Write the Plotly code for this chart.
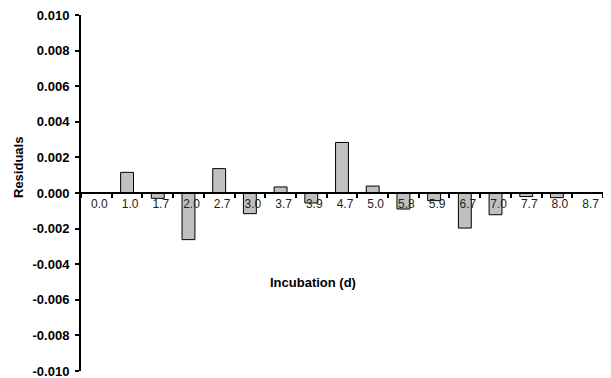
import plotly.graph_objects as go

categories = ["0.0", "1.0", "1.7", "2.0", "2.7", "3.0", "3.7", "3.9", "4.7",
              "5.0", "5.8", "5.9", "6.7", "7.0", "7.7", "8.0", "8.7"]
residuals = [0.0, 0.00116, -0.00030, -0.00262, 0.00137, -0.00116, 0.00034, -0.00056,
             0.00284, 0.00039, -0.00090, -0.00043, -0.00197, -0.00122, -0.00020,
             -0.00026, 0.0]
y_ticks = [-0.010, -0.008, -0.006, -0.004, -0.002, 0.000, 0.002, 0.004, 0.006, 0.008, 0.010]

# The page body has an 8px default margin; size the figure so the plot area
# lands at page pixels x 81..603, y 15..371.
OFF = 8
W, H = 611 - OFF, 378 - OFF
X0, X1, Y0, Y1 = 81, 603, 15, 371
L, R, T, B = X0 - OFF, W + OFF - X1, Y0 - OFF, H + OFF - Y1
pw, ph = X1 - X0, Y1 - Y0


def px_x(x):
    return (x - X0) / pw


def px_y(y):
    return 1 - (y - Y0) / ph


fig = go.Figure()
fig.add_trace(go.Bar(
    x=categories, y=residuals,
    marker=dict(color="#C0C0C0", line=dict(color="#000000", width=1)),
    width=0.42,
))

eps = 1e-7
fig.update_layout(
    width=W, height=H,
    margin=dict(l=L, r=R, t=T, b=B),
    paper_bgcolor="white", plot_bgcolor="white",
    showlegend=False,
    font=dict(family="Liberation Sans, Arial, sans-serif", color="#000000"),
    xaxis=dict(
        type="category",
        anchor="free", position=0.5,
        automargin=False,
        showline=True, linecolor="#000000", linewidth=2,
        ticks="outside", tickson="boundaries", ticklen=4, tickwidth=2, tickcolor="#000000",
        tickfont=dict(size=12, color="#222222"),
        ticklabelshift=3, ticklabelstandoff=0,
        ticklabeloverflow="allow",
        showgrid=False, zeroline=False,
        range=[-0.5, 16.5],
    ),
    yaxis=dict(
        range=[min(y_ticks) - eps, max(y_ticks) + eps],
        automargin=False,
        tickvals=y_ticks,
        ticktext=[f"{v:.3f}" for v in y_ticks],
        showline=True, linecolor="#000000", linewidth=2,
        ticks="outside", ticklen=4, tickwidth=2, tickcolor="#000000",
        tickfont=dict(size=13, weight="bold"),
        ticklabeloverflow="allow",
        showgrid=False, zeroline=False,
        ticklabelstandoff=3,
    ),
    annotations=[
        dict(text="<b>Residuals</b>", x=px_x(18), y=px_y(168), xref="paper", yref="paper",
             xanchor="center", yanchor="middle",
             showarrow=False, textangle=-90, font=dict(size=13)),
        dict(text="<b>Incubation (d)</b>", x=px_x(313), y=px_y(282), xref="paper", yref="paper",
             xanchor="center", yanchor="middle",
             showarrow=False, font=dict(size=13)),
    ],
)

fig.write_html("out.html")
